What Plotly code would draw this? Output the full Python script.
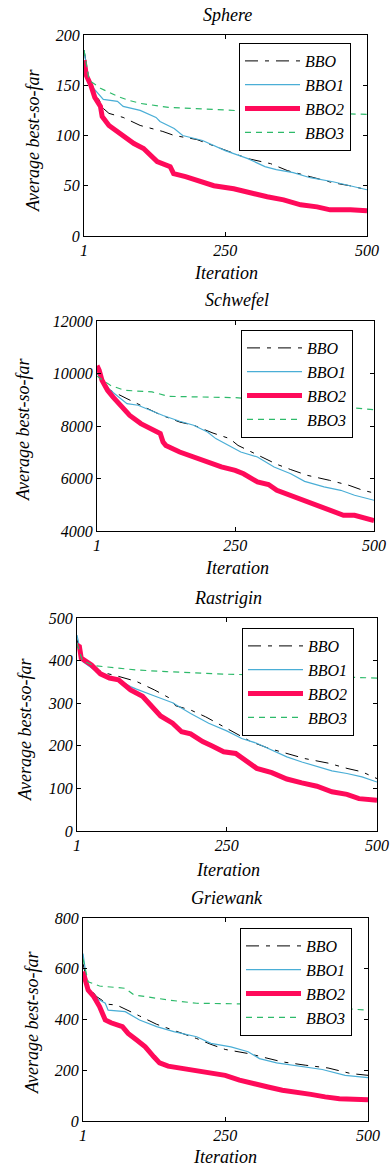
import plotly.graph_objects as go

# ---------------- data ----------------
titles = ["Sphere", "Schwefel", "Rastrigin", "Griewank"]
series_names = ["BBO", "BBO1", "BBO2", "BBO3"]
x_ticks = [1, 250, 500]

# Sphere
sph_bbo_x = [1, 10, 35, 45, 70, 100, 140, 160, 200, 250, 290, 330, 360, 400, 440, 470, 500]
sph_bbo_y = [185, 155, 127, 122, 118, 110, 104, 100, 96, 85, 77, 72, 65, 59, 53, 50, 46]
sph_bbo1_x = [1, 10, 35, 60, 70, 100, 128, 135, 160, 175, 210, 250, 290, 320, 340, 370, 400, 440, 470, 500]
sph_bbo1_y = [185, 152, 136, 134, 129, 125, 118, 114, 107, 100, 95, 85, 77, 69, 66, 63, 58, 54, 50, 46]
sph_bbo2_x = [1, 5, 13, 20, 30, 33, 45, 60, 75, 89, 106, 118, 130, 153, 159, 180, 206, 230, 265, 300, 324, 353, 383, 412, 435, 471, 500]
sph_bbo2_y = [175, 160, 150, 138, 129, 119, 110, 104, 97, 92, 87, 80, 74, 69, 62, 59, 54, 50, 47, 42, 39, 36, 31, 29, 26, 26, 25]
sph_bbo3_x = [1, 10, 30, 60, 80, 100, 150, 250, 300, 500]
sph_bbo3_y = [185, 155, 147, 139, 135, 132, 128, 125, 124, 121]

# Schwefel
sch_bbo_x = [1, 25, 55, 80, 115, 150, 175, 210, 240, 255, 290, 325, 350, 380, 420, 455, 480, 500]
sch_bbo_y = [10000, 9360, 9040, 8790, 8430, 8150, 8030, 7730, 7520, 7260, 6910, 6540, 6340, 6120, 5930, 5740, 5550, 5450]
sch_bbo1_x = [1, 25, 55, 75, 120, 150, 175, 200, 215, 240, 260, 290, 320, 350, 375, 410, 440, 465, 500]
sch_bbo1_y = [10000, 9360, 8850, 8790, 8400, 8180, 8030, 7770, 7520, 7230, 7010, 6820, 6440, 6180, 5890, 5680, 5550, 5360, 5170]
sch_bbo2_x = [1, 5, 10, 20, 30, 45, 60, 80, 100, 115, 120, 125, 150, 175, 200, 225, 250, 265, 290, 310, 325, 350, 375, 400, 425, 445, 465, 485, 500]
sch_bbo2_y = [10300, 10120, 9740, 9360, 9100, 8720, 8400, 8090, 7900, 7710, 7390, 7260, 7010, 6820, 6630, 6440, 6310, 6180, 5870, 5770, 5550, 5360, 5170, 4980, 4790, 4600, 4600, 4470, 4400]
sch_bbo3_x = [1, 25, 50, 100, 130, 250, 350, 500]
sch_bbo3_y = [9900, 9550, 9360, 9300, 9130, 9080, 8900, 8620]

# Rastrigin
ras_bbo_x = [1, 10, 30, 50, 70, 100, 130, 155, 165, 190, 215, 240, 260, 290, 320, 350, 380, 420, 450, 475, 500]
ras_bbo_y = [450, 398, 380, 370, 363, 351, 331, 312, 294, 284, 268, 249, 233, 210, 194, 182, 170, 159, 147, 139, 123]
ras_bbo1_x = [1, 10, 30, 50, 70, 90, 100, 130, 160, 190, 220, 250, 275, 300, 325, 350, 375, 400, 425, 450, 475, 500]
ras_bbo1_y = [460, 398, 378, 367, 355, 339, 333, 317, 301, 276, 253, 235, 217, 206, 190, 174, 162, 151, 141, 135, 127, 115]
ras_bbo2_x = [1, 5, 8, 25, 40, 55, 70, 90, 110, 130, 140, 160, 175, 190, 210, 225, 245, 265, 280, 300, 325, 350, 375, 400, 425, 450, 470, 500]
ras_bbo2_y = [436, 433, 406, 390, 369, 359, 355, 331, 316, 288, 270, 253, 233, 228, 210, 200, 186, 182, 166, 147, 137, 122, 113, 105, 92, 86, 76, 72]
ras_bbo3_x = [1, 10, 30, 50, 100, 150, 250, 350, 500]
ras_bbo3_y = [440, 400, 388, 385, 378, 374, 368, 365, 359]

# Griewank
gri_bbo_x = [1, 10, 25, 45, 60, 80, 100, 130, 160, 200, 225, 250, 290, 320, 350, 390, 430, 470, 500]
gri_bbo_y = [620, 530, 490, 460, 457, 437, 414, 381, 358, 325, 302, 282, 266, 249, 233, 220, 209, 187, 180]
gri_bbo1_x = [1, 10, 25, 40, 45, 75, 100, 130, 160, 200, 225, 260, 290, 310, 340, 380, 420, 460, 500]
gri_bbo1_y = [660, 516, 484, 464, 437, 431, 398, 372, 352, 332, 306, 292, 273, 246, 229, 216, 203, 180, 171]
gri_bbo2_x = [1, 5, 10, 20, 30, 40, 50, 70, 80, 95, 110, 125, 135, 150, 175, 200, 225, 250, 275, 300, 325, 350, 375, 400, 425, 450, 500]
gri_bbo2_y = [589, 556, 516, 490, 451, 398, 387, 372, 345, 319, 292, 253, 229, 216, 207, 198, 190, 180, 161, 145, 134, 121, 115, 105, 95, 88, 84]
gri_bbo3_x = [1, 10, 30, 75, 90, 125, 150, 200, 300, 400, 500]
gri_bbo3_y = [640, 549, 532, 523, 497, 484, 477, 464, 461, 450, 437]

y_ticks = [
    [0, 50, 100, 150, 200],
    [4000, 6000, 8000, 10000, 12000],
    [0, 100, 200, 300, 400, 500],
    [0, 200, 400, 600, 800],
]

panels = [
    [(sph_bbo_x, sph_bbo_y), (sph_bbo1_x, sph_bbo1_y), (sph_bbo2_x, sph_bbo2_y), (sph_bbo3_x, sph_bbo3_y)],
    [(sch_bbo_x, sch_bbo_y), (sch_bbo1_x, sch_bbo1_y), (sch_bbo2_x, sch_bbo2_y), (sch_bbo3_x, sch_bbo3_y)],
    [(ras_bbo_x, ras_bbo_y), (ras_bbo1_x, ras_bbo1_y), (ras_bbo2_x, ras_bbo2_y), (ras_bbo3_x, ras_bbo3_y)],
    [(gri_bbo_x, gri_bbo_y), (gri_bbo1_x, gri_bbo1_y), (gri_bbo2_x, gri_bbo2_y), (gri_bbo3_x, gri_bbo3_y)],
]

# ---------------- styles / layout ----------------
W, H = 392, 1169
styles = [
    dict(color="#000000", width=1, dash="13px,7px,4px,7px"),
    dict(color="#4aaed6", width=1.2, dash="solid"),
    dict(color="#ff0a5a", width=5, dash="solid"),
    dict(color="#2dba6a", width=1.2, dash="6px,5px"),
]
# plot-area pixel boxes: (left, right, top, bottom)
boxes = [(84, 367, 35, 236), (97, 374, 321, 531), (77, 377, 618, 831), (83, 368, 918, 1121)]
legend_pos = [(239, 43), (241, 330), (242, 628), (240, 928)]
title_pos = [(227, 15), (237, 300), (228, 598), (227, 898)]
xlabel_pos = [(226, 273), (237, 568), (228, 870), (225, 1157)]
ylabel_pos = [(33, 141), (23, 430), (25, 730), (32, 1023)]

FONT = "Liberation Serif, Times New Roman, serif"
fig = go.Figure()
ann = []
layout = dict(
    template="none",
    width=W, height=H, autosize=False,
    margin=dict(l=0, r=0, t=0, b=0, pad=0),
    paper_bgcolor="white", plot_bgcolor="white",
    font=dict(family=FONT, size=16, color="black", style="italic"),
)

for i in range(4):
    sfx = "" if i == 0 else str(i + 1)
    xa, ya = "x" + sfx, "y" + sfx
    lg = "legend" + sfx
    for j, (xs, ys) in enumerate(panels[i]):
        fig.add_trace(go.Scatter(
            x=xs, y=ys, mode="lines", name=series_names[j],
            line=dict(shape="linear", **styles[j]),
            xaxis=xa, yaxis=ya, legend=lg, showlegend=True,
        ))
    l, r, t, b = boxes[i]
    axcommon = dict(showline=True, mirror="ticks", linecolor="black", linewidth=1,
                    ticks="inside", ticklen=4, tickcolor="black", showgrid=False,
                    zeroline=False, automargin=False, tickformat="d",
                    tickfont=dict(family=FONT, size=16, style="italic", color="black"))
    layout["xaxis" + sfx] = dict(domain=[l / W, r / W], range=[1, 500], tickvals=x_ticks,
                                 anchor=ya, **axcommon)
    ys_t = y_ticks[i]
    layout["yaxis" + sfx] = dict(domain=[1 - b / H, 1 - t / H], range=[ys_t[0], ys_t[-1]],
                                 tickvals=ys_t, anchor=xa, **axcommon)
    lx, ly = legend_pos[i]
    layout[lg] = dict(x=lx / W, y=1 - ly / H, xanchor="left", yanchor="top",
                      bgcolor="white", bordercolor="black", borderwidth=1,
                      font=dict(family=FONT, size=16, style="italic", color="black"),
                      itemwidth=55)
    tx, ty = title_pos[i]
    ann.append(dict(text=titles[i], x=tx / W, y=1 - ty / H, xref="paper", yref="paper",
                    xanchor="center", yanchor="middle",
                    showarrow=False, font=dict(family=FONT, size=18, style="italic")))
    ax_, ay_ = xlabel_pos[i]
    ann.append(dict(text="Iteration", x=ax_ / W, y=1 - ay_ / H, xref="paper", yref="paper",
                    xanchor="center", yanchor="middle",
                    showarrow=False, font=dict(family=FONT, size=18, style="italic")))
    yx, yy = ylabel_pos[i]
    ann.append(dict(text="Average best-so-far", x=yx / W, y=1 - yy / H, xref="paper", yref="paper",
                    xanchor="center", yanchor="middle",
                    showarrow=False, textangle=-90, font=dict(family=FONT, size=18, style="italic")))

layout["annotations"] = ann
fig.update_layout(**layout)
fig.write_html("out.html")
